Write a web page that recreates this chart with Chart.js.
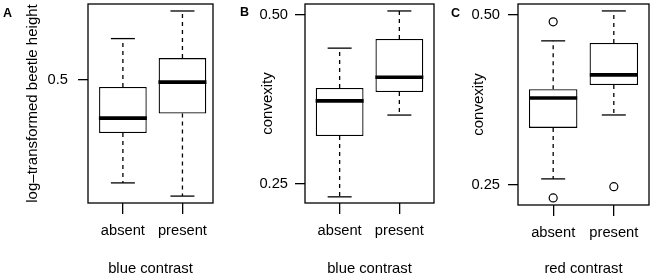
<!DOCTYPE html>
<html>
<head>
<meta charset="utf-8">
<script src="https://cdn.jsdelivr.net/npm/chart.js@4"></script>
<style>
body { margin: 0; background: #fff; }
#wrap { position: relative; width: 651px; height: 278px; overflow: hidden; background: #fff; }
canvas { position: absolute; top: 0; }
.tag { position: absolute; font: bold 12.5px "Liberation Sans", Arial, sans-serif; line-height: 12.5px; color: #000; }
</style>
</head>
<body>
<div id="wrap">
  <canvas id="panelA" width="217" height="278" style="left:0px"></canvas>
  <canvas id="panelB" width="219" height="278" style="left:217px"></canvas>
  <canvas id="panelC" width="217" height="278" style="left:434px"></canvas>
  <div class="tag" style="left:3px;top:7px">A</div>
  <div class="tag" style="left:240px;top:6px">B</div>
  <div class="tag" style="left:451px;top:7px">C</div>
</div>
<script>
// ======================================
// DATA
// ======================================

const groups = ["absent", "present"];

// [lower whisker, Q1, median, Q3, upper whisker] per group
const heightBlue = [
  [0.157, 0.323, 0.373, 0.477, 0.638],
  [0.113, 0.388, 0.493, 0.573, 0.730]
];

const convexBlue = [
  [0.231, 0.321, 0.373, 0.392, 0.451],
  [0.352, 0.386, 0.408, 0.4645, 0.506]
];

const convexRed = [
  [0.259, 0.334, 0.378, 0.391, 0.462],
  [0.353, 0.397, 0.412, 0.459, 0.506]
];

const heightBlueOut = [[], []];
const convexBlueOut = [[], []];
const convexRedOut = [[0.490, 0.231], [0.2475]];

const heightTicks = [0.5];
const heightTickLabels = ["0.5"];
const convexTicks = [0.25, 0.5];
const convexTickLabels = ["0.25", "0.50"];

// ======================================
// HELPERS
// ======================================

const FONT = "'Liberation Sans', Arial, Helvetica, sans-serif";

const frame = {
  id: "frame",
  afterDatasetsDraw(chart) {
    const a = chart.chartArea;
    const c = chart.ctx;
    c.save();
    c.strokeStyle = "#000";
    c.lineWidth = 1.3;
    c.strokeRect(a.left, a.top, a.right - a.left, a.bottom - a.top);
    c.restore();
  }
};

function boxDatasets(stats, outliers) {
  const pos = stats.map((s, i) => i + 1);
  const whiskers = [];
  stats.forEach((s, i) => {
    whiskers.push({x: pos[i], y: s[3]}, {x: pos[i], y: s[4]}, {x: pos[i], y: null});
    whiskers.push({x: pos[i], y: s[1]}, {x: pos[i], y: s[0]}, {x: pos[i], y: null});
  });
  const caps = [];
  stats.forEach((s, i) => {
    caps.push({x: pos[i], y: s[0]}, {x: pos[i], y: s[4]});
  });
  const outs = [];
  outliers.forEach((list, i) => list.forEach(v => outs.push({x: pos[i], y: v})));

  return [
    {
      type: "line",
      data: whiskers,
      borderColor: "#000",
      borderWidth: 1.3,
      borderDash: [4, 4],
      pointRadius: 0,
      spanGaps: false,
      order: 5
    },
    {
      type: "bar",
      data: stats.map((s, i) => ({x: pos[i], y: [s[1], s[3]]})),
      backgroundColor: "#fff",
      borderColor: "#000",
      borderWidth: 1.3,
      borderSkipped: false,
      categoryPercentage: 1,
      barPercentage: 0.8,
      order: 4
    },
    {
      type: "line",
      data: stats.map((s, i) => ({x: pos[i], y: s[2]})),
      showLine: false,
      pointStyle: "line",
      pointRadius: 24,
      pointBorderWidth: 3.6,
      pointBorderColor: "#000",
      order: 2
    },
    {
      type: "line",
      data: caps,
      showLine: false,
      pointStyle: "line",
      pointRadius: 12,
      pointBorderWidth: 1.3,
      pointBorderColor: "#000",
      order: 2
    },
    {
      type: "line",
      data: outs,
      showLine: false,
      pointStyle: "circle",
      pointRadius: 4,
      pointBorderWidth: 1.2,
      pointBorderColor: "#000",
      pointBackgroundColor: "#fff",
      order: 1
    }
  ];
}

function makePanel(id, p) {
  return new Chart(document.getElementById(id), {
    type: "bar",
    data: {datasets: boxDatasets(p.stats, p.outliers)},
    plugins: [frame],
    options: {
      responsive: false,
      devicePixelRatio: 1,
      animation: false,
      events: [],
      layout: {autoPadding: false, padding: {top: p.padTop, right: p.padRight, left: 0, bottom: 0}},
      plugins: {legend: {display: false}, tooltip: {enabled: false}},
      scales: {
        x: {
          type: "linear",
          min: p.xMin,
          max: p.xMax,
          offset: false,
          afterBuildTicks: s => { s.ticks = groups.map((g, i) => ({value: i + 1})); },
          afterFit: s => {
            s.height = p.xHeight;
            s.paddingLeft = 0;
            s.paddingRight = 0;
          },
          ticks: {
            color: "#000",
            padding: 8,
            maxRotation: 0,
            autoSkip: false,
            font: {family: FONT, size: 14.7},
            callback: v => groups[v - 1]
          },
          grid: {
            offset: false,
            drawOnChartArea: false,
            drawTicks: true,
            tickLength: 11,
            color: "#000",
            lineWidth: 1.3
          },
          border: {display: false},
          title: {
            display: true,
            text: p.xTitle,
            color: "#000",
            font: {family: FONT, size: 14.8},
            padding: {top: 0, bottom: 0}
          }
        },
        y: {
          type: "linear",
          min: p.yMin,
          max: p.yMax,
          afterBuildTicks: s => { s.ticks = p.yTicks.map(v => ({value: v})); },
          afterFit: s => {
            s.width = p.yWidth;
            s.paddingTop = 0;
            s.paddingBottom = 0;
          },
          ticks: {
            color: "#000",
            padding: p.tickPad,
            autoSkip: false,
            font: {family: FONT, size: 14.7},
            callback: v => p.yTickLabels[p.yTicks.indexOf(v)]
          },
          grid: {
            drawOnChartArea: false,
            drawTicks: true,
            tickLength: 10,
            color: "#000",
            lineWidth: 1.3
          },
          border: {display: false},
          title: {
            display: true,
            text: p.yTitle,
            color: "#000",
            font: {family: FONT, size: 15},
            padding: {top: p.titlePad, bottom: 0}
          }
        }
      }
    }
  });
}

// ======================================
// PANELS
// ======================================

makePanel("panelA", {
  stats: heightBlue, outliers: heightBlueOut,
  yTicks: heightTicks, yTickLabels: heightTickLabels,
  yMin: 0.09, yMax: 0.7533, xMin: 0.414, xMax: 2.513,
  yWidth: 88, xHeight: 75, padTop: 4, padRight: 4, tickPad: 10, titlePad: 23.5,
  yTitle: "log\u2013transformed beetle height", xTitle: "blue contrast"
});

makePanel("panelB", {
  stats: convexBlue, outliers: convexBlueOut,
  yTicks: convexTicks, yTickLabels: convexTickLabels,
  yMin: 0.2219, yMax: 0.5163, xMin: 0.42, xMax: 2.58,
  yWidth: 88, xHeight: 75, padTop: 4, padRight: 2, tickPad: 7, titlePad: 42,
  yTitle: "convexity", xTitle: "blue contrast"
});

makePanel("panelC", {
  stats: convexRed, outliers: convexRedOut,
  yTicks: convexTicks, yTickLabels: convexTickLabels,
  yMin: 0.2206, yMax: 0.5162, xMin: 0.42, xMax: 2.58,
  yWidth: 84, xHeight: 73, padTop: 4, padRight: 2, tickPad: 8, titlePad: 36,
  yTitle: "convexity", xTitle: "red contrast"
});
</script>
</body>
</html>
